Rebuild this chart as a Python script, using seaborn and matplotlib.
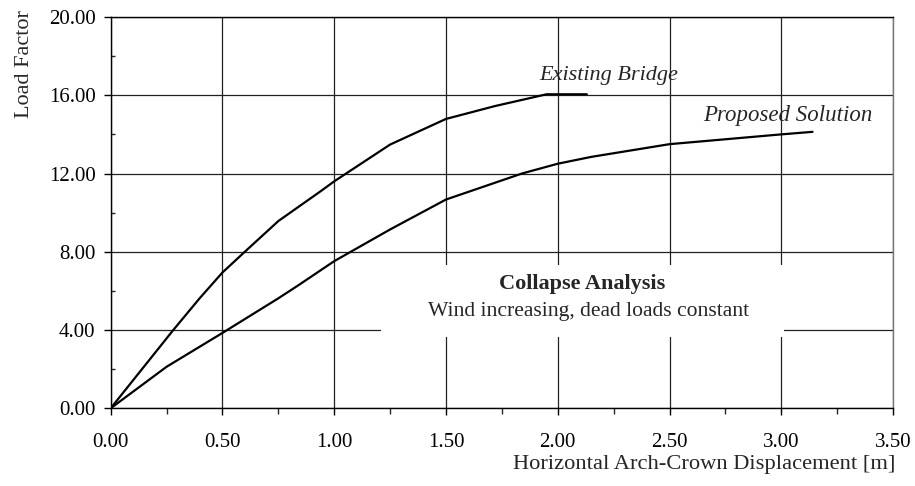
import numpy as np
import pandas as pd
import matplotlib
matplotlib.use("Agg")
import matplotlib.pyplot as plt
from matplotlib.patches import Rectangle
from matplotlib.ticker import MultipleLocator, FormatStrFormatter
import seaborn as sns

# Curves
existing_x = [0.00, 0.14, 0.28, 0.40, 0.50, 0.60, 0.75, 0.94, 1.00, 1.25, 1.50, 1.72, 1.95, 2.13]
existing_y = [0.00, 2.00, 4.00, 5.65, 6.94, 8.00, 9.57, 11.10, 11.60, 13.48, 14.79, 15.45, 16.05, 16.05]

proposed_x = [0.00, 0.25, 0.50, 0.75, 0.84, 1.00, 1.25, 1.50, 1.84, 2.00, 2.15, 2.50, 3.00, 3.14]
proposed_y = [0.00, 2.12, 3.85, 5.62, 6.29, 7.52, 9.14, 10.67, 12.00, 12.50, 12.85, 13.50, 14.00, 14.13]

series_names = ["Existing Bridge", "Proposed Solution"]

df = pd.concat([
    pd.DataFrame({"disp": existing_x, "load": existing_y, "series": series_names[0]}),
    pd.DataFrame({"disp": proposed_x, "load": proposed_y, "series": series_names[1]}),
], ignore_index=True)

sns.set_style("white")
plt.rcParams["font.family"] = ["Liberation Serif", "DejaVu Serif"]

fig = plt.figure(figsize=(9.15, 4.86), dpi=100)
ax = fig.add_axes([0.121, 0.160, 0.855, 0.805])

# white panel behind the caption hides the grid there
ax.add_patch(Rectangle((1.21, 3.65), 1.80, 3.66, facecolor="white", edgecolor="none", zorder=1.5))

sns.lineplot(data=df, x="disp", y="load", hue="series", palette=["black", "black"],
             sort=False, estimator=None, linewidth=1.6, legend=False, ax=ax, zorder=3)

ax.set_xlim(0, 3.5)
ax.set_ylim(0, 20)
ax.xaxis.set_major_locator(MultipleLocator(0.5))
ax.xaxis.set_minor_locator(MultipleLocator(0.25))
ax.yaxis.set_major_locator(MultipleLocator(4))
ax.yaxis.set_minor_locator(MultipleLocator(2))
ax.xaxis.set_major_formatter(FormatStrFormatter("%.2f"))
ax.yaxis.set_major_formatter(FormatStrFormatter("%.2f"))

ax.set_axisbelow(True)
ax.grid(True, which="major", color="#222222", linewidth=0.9)
for s in ax.spines.values():
    s.set_color("black")
    s.set_linewidth(1.0)
ax.spines["right"].set_color("#777777")

ax.tick_params(axis="both", which="major", direction="out", length=5, width=1,
               labelsize=15, colors="black", bottom=True, left=True)
ax.tick_params(axis="x", which="minor", direction="out", length=4, width=1, bottom=True)
ax.tick_params(axis="y", which="minor", direction="in", length=3, width=1, left=True)
ax.tick_params(axis="x", which="major", pad=12.5)
ax.tick_params(axis="y", which="major", pad=6)

ax.set_xlabel("Horizontal Arch-Crown Displacement [m]", fontsize=16.2)
ax.xaxis.set_label_coords(1.003, -0.12)
ax.xaxis.label.set_horizontalalignment("right")
ax.set_ylabel("Load Factor", fontsize=16)
ax.yaxis.set_label_coords(-0.098, 0.88)

ax.text(2.23, 17.0, "Existing Bridge", style="italic", fontsize=16, ha="center", va="center")
ax.text(3.03, 14.95, "Proposed Solution", style="italic", fontsize=16.5, ha="center", va="center")
ax.text(2.11, 6.37, "Collapse Analysis", fontweight="bold", fontsize=16, ha="center", va="center", zorder=4)
ax.text(2.137, 4.93, "Wind increasing, dead loads constant", fontsize=15.6, ha="center", va="center", zorder=4)

fig.savefig("out.png", dpi=100)
